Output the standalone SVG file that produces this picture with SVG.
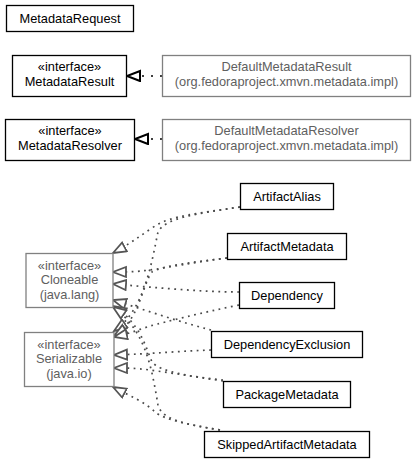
<svg xmlns="http://www.w3.org/2000/svg" width="417" height="461" viewBox="0 0 417 461">
<style>
text{font-family:"Liberation Sans",Arial,sans-serif;font-size:12.8px;text-anchor:middle}
.n rect{fill:#fff;stroke:#000;stroke-width:1.3}
.g rect{fill:#fff;stroke:#808080;stroke-width:1.3}
.g text{fill:#606060}
.n text{fill:#000}
.e path{fill:none;stroke:#4a4a4a;stroke-width:1.7;stroke-dasharray:1.8,4.5;marker-end:url(#tri)}
.e path.k{stroke:#000;stroke-dasharray:2,7;marker-end:url(#trik)}
</style>
<defs>
<marker id="tri" markerUnits="userSpaceOnUse" markerWidth="18" markerHeight="14" refX="14" refY="6" orient="auto" viewBox="0 0 18 14">
<polygon points="1,1 14,6 1,11" fill="#fff" stroke="#555" stroke-width="1.8"/>
</marker>
<marker id="trik" markerUnits="userSpaceOnUse" markerWidth="18" markerHeight="14" refX="14" refY="6" orient="auto" viewBox="0 0 18 14">
<polygon points="1,1 14,6 1,11" fill="#fff" stroke="#000" stroke-width="2"/>
</marker>
</defs>
<rect width="417" height="461" fill="#fff"/>
<g id="edges" class="e">
<path class="k" d="M162,76 L127,76"/>
<path class="k" d="M162,139 L135,139"/>
<path d="M240,207 C200,213 170,216 155,226 C140,236 128,245 113,253"/>
<path d="M227,258 C195,262 165,268 150,270 C135,272 125,272 113,272"/>
<path d="M239,292 C200,292 150,287 113,284"/>
<path d="M211,330 C180,322 145,310 113,300"/>
<path d="M223,381 C190,376 160,372 152,362 C146,348 140,322 113,306"/>
<path d="M220,430 C185,424 162,420 158,405 C152,370 146,330 113,307"/>
<path d="M240,207 C195,214 165,218 158,232 C152,260 145,310 114,331"/>
<path d="M227,258 C195,262 165,265 152,272 C142,285 140,320 114,336"/>
<path d="M239,305 C200,313 165,322 150,326 C138,330 128,334 114,337"/>
<path d="M211,350 C180,351 150,354 114,355"/>
<path d="M223,380 C195,377 165,372 150,370 C135,368 125,368 114,368"/>
<path d="M220,430 C190,425 165,420 155,412 C145,402 130,396 113,387"/>
</g>
<g id="MetadataRequest" class="n"><rect x="6.5" y="5.5" width="127" height="26"/><text x="70" y="23">MetadataRequest</text></g>
<g id="MetadataResult" class="n"><rect x="12.5" y="55.5" width="114" height="41"/><text x="69.5" y="71">«interface»</text><text x="69.5" y="86">MetadataResult</text></g>
<g id="DefaultMetadataResult" class="g"><rect x="162.5" y="55.5" width="248" height="41"/><text x="286.5" y="71">DefaultMetadataResult</text><text x="286.5" y="86">(org.fedoraproject.xmvn.metadata.impl)</text></g>
<g id="MetadataResolver" class="n"><rect x="5.5" y="119.5" width="129" height="41"/><text x="70" y="135">«interface»</text><text x="70" y="150">MetadataResolver</text></g>
<g id="DefaultMetadataResolver" class="g"><rect x="162.5" y="119.5" width="248" height="41"/><text x="286.5" y="135">DefaultMetadataResolver</text><text x="286.5" y="150">(org.fedoraproject.xmvn.metadata.impl)</text></g>
<g id="Cloneable" class="g"><rect x="26" y="253.5" width="87" height="54"/><text x="69.5" y="269.5">«interface»</text><text x="69.5" y="284">Cloneable</text><text x="69.5" y="298.5">(java.lang)</text></g>
<g id="Serializable" class="g"><rect x="24.5" y="332.5" width="89.5" height="54"/><text x="69" y="348.5">«interface»</text><text x="69" y="363">Serializable</text><text x="69" y="377.5">(java.io)</text></g>
<g id="ArtifactAlias" class="n"><rect x="240.5" y="183.5" width="93" height="26"/><text x="287" y="201">ArtifactAlias</text></g>
<g id="ArtifactMetadata" class="n"><rect x="227.5" y="233.5" width="119" height="26"/><text x="287" y="251">ArtifactMetadata</text></g>
<g id="Dependency" class="n"><rect x="239.5" y="282.5" width="95" height="26"/><text x="287" y="300">Dependency</text></g>
<g id="DependencyExclusion" class="n"><rect x="211.5" y="331.5" width="151" height="26"/><text x="287" y="349">DependencyExclusion</text></g>
<g id="PackageMetadata" class="n"><rect x="223.5" y="381.5" width="127" height="26"/><text x="287" y="399">PackageMetadata</text></g>
<g id="SkippedArtifactMetadata" class="n"><rect x="204.5" y="431.5" width="165" height="26"/><text x="287" y="449">SkippedArtifactMetadata</text></g>
</svg>
